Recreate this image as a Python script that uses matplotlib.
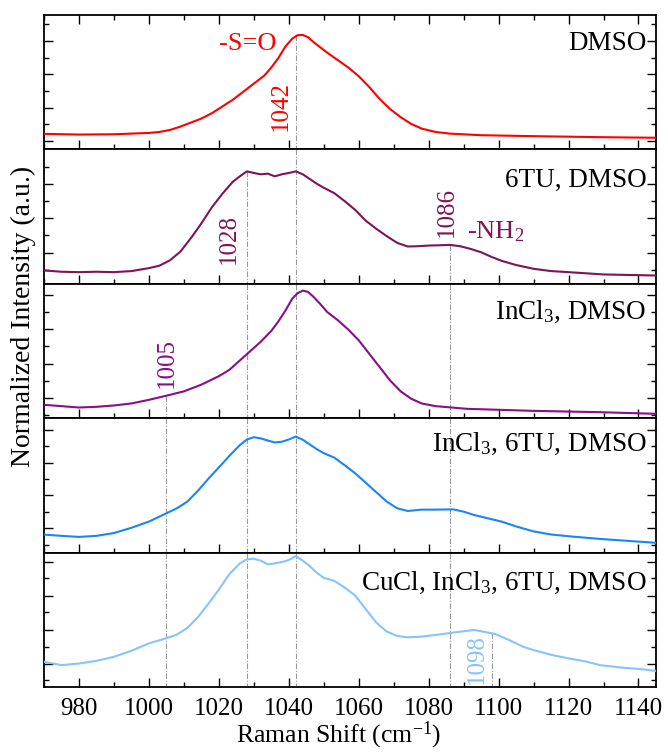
import matplotlib
matplotlib.use("Agg")
import matplotlib.pyplot as plt
from matplotlib.ticker import MultipleLocator, FixedLocator, NullFormatter

plt.rcParams['font.family'] = ['Liberation Serif', 'DejaVu Serif']
plt.rcParams['mathtext.fontset'] = 'custom'
plt.rcParams['mathtext.rm'] = 'Liberation Serif'
plt.rcParams['mathtext.it'] = 'Liberation Serif:italic'
plt.rcParams['mathtext.bf'] = 'Liberation Serif:bold'

# ---------------- data (normalized intensity, per panel) ----------------
x1 = [970, 980, 990, 1000, 1003, 1006, 1009, 1012, 1015, 1018, 1021, 1024, 1027, 1030, 1033,
      1035, 1037, 1039, 1041, 1042.5, 1044, 1045.5, 1047, 1049, 1051, 1054, 1057, 1060, 1063,
      1066, 1069, 1072, 1075, 1078, 1082, 1086, 1095, 1110, 1130, 1145]
y1 = [0.116, 0.111, 0.113, 0.123, 0.13, 0.145, 0.17, 0.20, 0.23, 0.27, 0.32, 0.37, 0.43, 0.49, 0.55,
      0.61, 0.68, 0.765, 0.825, 0.85, 0.852, 0.835, 0.80, 0.76, 0.72, 0.665, 0.61, 0.545, 0.465,
      0.375, 0.30, 0.24, 0.19, 0.155, 0.13, 0.118, 0.106, 0.099, 0.091, 0.087]

x2 = [970, 975, 980, 985, 990, 995, 1000, 1003, 1006, 1009, 1012, 1015, 1018, 1021, 1024, 1026,
      1028, 1030, 1032, 1034, 1036, 1038, 1040, 1042, 1044, 1046, 1048, 1050, 1053, 1056, 1059,
      1062, 1065, 1068, 1071, 1074, 1077, 1080, 1083, 1086, 1089, 1092, 1095, 1098, 1101, 1105,
      1110, 1115, 1120, 1130, 1145]
y2 = [0.10, 0.09, 0.087, 0.09, 0.087, 0.095, 0.117, 0.135, 0.175, 0.24, 0.34, 0.45, 0.57, 0.67,
      0.76, 0.80, 0.837, 0.825, 0.815, 0.82, 0.80, 0.815, 0.825, 0.837, 0.815, 0.78, 0.745, 0.715,
      0.675, 0.615, 0.55, 0.47, 0.41, 0.355, 0.305, 0.278, 0.28, 0.285, 0.287, 0.29, 0.28, 0.26,
      0.235, 0.20, 0.17, 0.14, 0.112, 0.095, 0.087, 0.07, 0.062]

x3 = [970, 975, 980, 985, 990, 995, 1000, 1005, 1010, 1015, 1020, 1023, 1026, 1029, 1032, 1035,
      1037, 1039, 1041, 1042.5, 1044, 1045.5, 1047, 1049, 1051, 1054, 1057, 1060, 1063, 1066,
      1069, 1072, 1075, 1078, 1082, 1091, 1110, 1129, 1145]
y3 = [0.1, 0.09, 0.08, 0.085, 0.095, 0.11, 0.137, 0.168, 0.2, 0.25, 0.313, 0.36, 0.43, 0.50, 0.57,
      0.65, 0.72, 0.80, 0.89, 0.93, 0.95, 0.94, 0.905, 0.85, 0.79, 0.73, 0.66, 0.58, 0.48, 0.38,
      0.28, 0.20, 0.145, 0.11, 0.09, 0.07, 0.055, 0.045, 0.033]

x4 = [970, 975, 980, 985, 990, 995, 1000, 1005, 1008, 1011, 1014, 1017, 1020, 1023, 1026, 1028,
      1030, 1032, 1034, 1036, 1038, 1040, 1042, 1044, 1046, 1048, 1050, 1053, 1056, 1059, 1062,
      1065, 1068, 1071, 1074, 1078, 1082, 1087, 1090, 1093, 1097, 1101, 1105, 1110, 1115, 1120,
      1129, 1145]
y4 = [0.134, 0.125, 0.117, 0.125, 0.146, 0.185, 0.231, 0.293, 0.33, 0.38, 0.46, 0.55, 0.634, 0.72,
      0.80, 0.842, 0.859, 0.85, 0.834, 0.82, 0.825, 0.842, 0.864, 0.84, 0.805, 0.77, 0.74, 0.707,
      0.65, 0.59, 0.52, 0.45, 0.38, 0.33, 0.31, 0.32, 0.32, 0.322, 0.305, 0.28, 0.255, 0.23,
      0.195, 0.158, 0.135, 0.122, 0.102, 0.073]

x5 = [970, 975, 980, 985, 990, 995, 1000, 1005, 1008, 1011, 1014, 1017, 1020, 1023, 1026, 1028,
      1030, 1032, 1034, 1036, 1038, 1040, 1042, 1044, 1046, 1048, 1050, 1053, 1056, 1059, 1062,
      1065, 1068, 1071, 1074, 1078, 1082, 1087, 1090, 1093, 1096, 1099, 1103, 1107, 1110, 1115,
      1120, 1125, 1129, 1135, 1140, 1145]
y5 = [0.188, 0.163, 0.175, 0.195, 0.225, 0.27, 0.325, 0.363, 0.39, 0.44, 0.52, 0.62, 0.725, 0.84,
      0.92, 0.95, 0.955, 0.94, 0.913, 0.92, 0.93, 0.945, 0.975, 0.94, 0.90, 0.85, 0.813, 0.79,
      0.74, 0.68, 0.58, 0.48, 0.413, 0.38, 0.37, 0.375, 0.388, 0.405, 0.415, 0.425, 0.41, 0.395,
      0.35, 0.30, 0.275, 0.24, 0.213, 0.19, 0.163, 0.145, 0.135, 0.12]

xs = [x1, x2, x3, x4, x5]
ys = [y1, y2, y3, y4, y5]
labels = ['DMSO', '6TU, DMSO', r'InCl$_{\mathrm{3}}$, DMSO', r'InCl$_{\mathrm{3}}$, 6TU, DMSO',
          r'CuCl, InCl$_{\mathrm{3}}$, 6TU, DMSO']
colors = ['#FF0000', '#7E1455', '#880E8A', '#1A86F5', '#88C2FF']
label_baseline = [0.74, 0.725, 0.738, 0.756, 0.725]

# peak marker lines: x position, panel where it starts, starting height
marker_x = [1042, 1028, 1086, 1005, 1098]
marker_panel = [0, 1, 1, 2, 4]
marker_y0 = [0.85, 0.837, 0.29, 0.168, 0.40]

# y tick positions per panel (unlabelled)
ymajor = [[0.0615, 0.31, 0.558, 0.806],
          [-0.02, 0.233, 0.488, 0.745],
          [0.15, 0.405, 0.663, 0.92],
          [0.183, 0.427, 0.67, 0.915],
          [0.175, 0.425, 0.68, 0.933]]
yminor = [[0.186, 0.434, 0.682, 0.93],
          [0.105, 0.36, 0.617, 0.87],
          [0.025, 0.278, 0.534, 0.79],
          [0.06, 0.305, 0.55, 0.79],
          [0.05, 0.3, 0.555, 0.808]]

# ---------------- figure ----------------
fig = plt.figure(figsize=(6.68, 7.53), dpi=100)
axes = fig.subplots(5, 1, sharex=True, gridspec_kw=dict(hspace=0))
fig.subplots_adjust(left=0.0659, right=0.982, top=0.980, bottom=0.0876)

line_kw = dict(color='#9a9a9a', lw=0.8, ls=(0, (5, 1.5, 1, 1.5)), zorder=1)

for i, ax in enumerate(axes):
    ax.plot(xs[i], ys[i], color=colors[i], lw=1.5, zorder=3)
    ax.set_xlim(970, 1145)
    ax.set_ylim(0, 1)
    ax.xaxis.set_major_locator(MultipleLocator(20))
    ax.xaxis.set_minor_locator(MultipleLocator(10))
    ax.yaxis.set_major_locator(FixedLocator(ymajor[i]))
    ax.yaxis.set_minor_locator(FixedLocator(yminor[i]))
    ax.yaxis.set_major_formatter(NullFormatter())
    ax.tick_params(which='both', direction='in', top=(i == 0), bottom=True,
                   left=True, right=True, labelbottom=(i == 4), width=1.0,
                   labelsize=18, pad=8)
    ax.tick_params(which='major', length=6.5)
    ax.tick_params(which='minor', length=3.5)
    for s in ax.spines.values():
        s.set_linewidth(1.3)
    ax.text(0.985, label_baseline[i], labels[i], transform=ax.transAxes,
            ha='right', va='baseline', fontsize=19.5, color='black', zorder=5)
    for mx, mp, my in zip(marker_x, marker_panel, marker_y0):
        if i == mp:
            ax.plot([mx, mx], [my, 0], **line_kw)
        elif i > mp:
            ax.plot([mx, mx], [1, 0], **line_kw)

# annotations
a1, a2, a3, a4, a5 = axes
a1.text(1036.6, 0.785, '-S=O', color=colors[0], fontsize=19, ha='right', va='center')
a1.text(1040.9, 0.136, '1042', color=colors[0], fontsize=18, rotation=90, ha='right', va='bottom')
a2.text(1026.0, 0.15, '1028', color=colors[1], fontsize=18, rotation=90, ha='right', va='bottom')
a2.text(1085.2, 0.35, '1086', color=colors[1], fontsize=18, rotation=90, ha='center', va='bottom')
a2.text(1091.0, 0.338, r'-NH$_{\mathrm{2}}$', color=colors[1], fontsize=19, ha='left', va='baseline')
a3.text(1005.1, 0.225, '1005', color=colors[2], fontsize=18, rotation=90, ha='center', va='bottom')
a5.text(1097.0, 0.02, '1098', color=colors[4], fontsize=18, rotation=90, ha='right', va='bottom')

fig.text(338.5 / 668, 1 - 742 / 753, r'Raman Shift (cm$^{\mathrm{-1}}$)', fontsize=18.5,
         ha='center', va='baseline')
fig.text(23 / 668, 1 - 316.5 / 753, 'Normalized Intensity (a.u.)', rotation=90,
         ha='center', va='center', fontsize=20)

fig.savefig('out.png', dpi=100)
